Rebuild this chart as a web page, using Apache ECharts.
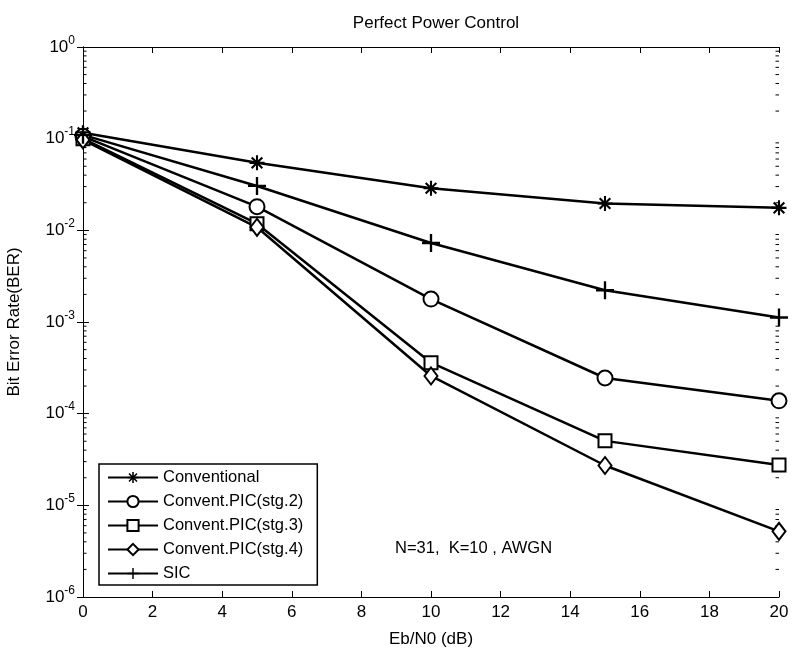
<!DOCTYPE html>
<html><head><meta charset="utf-8">
<script src="https://cdn.jsdelivr.net/npm/echarts@6/dist/echarts.min.js"></script>
<style>html,body{margin:0;padding:0;background:#fff}#c{width:792px;height:654px}</style>
</head><body><div id="c"></div>
<script>
const ebn0 = [0, 5, 10, 15, 20];
const conventional = [0.116, 0.0545, 0.0288, 0.0196, 0.0176];
const pic2 = [0.106, 0.0181, 0.00178, 0.000245, 0.000138];
const pic3 = [0.100, 0.0118, 0.00036, 0.0000505, 0.0000275];
const pic4 = [0.097, 0.0108, 0.000258, 0.0000272, 0.0000052];
const sic = [0.110, 0.0305, 0.00728, 0.00222, 0.00112];
const seriesNames = ['Conventional', 'Convent.PIC(stg.2)', 'Convent.PIC(stg.3)', 'Convent.PIC(stg.4)', 'SIC'];
const minorTickVals = [];
for (let k = -6; k < 0; k++) for (let m = 2; m <= 9; m++) minorTickVals.push(m * Math.pow(10, k));

const FF = 'Liberation Sans, Arial, Helvetica';
const starPath = 'path://M8.6,0H11.4V8.6H20V11.4H11.4V20H8.6V11.4H0V8.6H8.6Z M1.9,3.9L3.9,1.9L10,8L16.1,1.9L18.1,3.9L12,10L18.1,16.1L16.1,18.1L10,12L3.9,18.1L1.9,16.1L8,10Z';
const plusPath = 'path://M8.7,0H11.3V8.7H20V11.3H11.3V20H8.7V11.3H0V8.7H8.7Z';

function pairs(arr){ return ebn0.map((x,i)=>[x, arr[i]]); }
const lineBase = {type:'line', xAxisIndex:0, yAxisIndex:0, lineStyle:{color:'#000', width:2.5}, itemStyle:{color:'#000', borderColor:'#000', borderWidth:2.5}, showAllSymbol:true, z:5};
const ch = echarts.init(document.getElementById('c'));
const yLab = {
  color:'#000', margin:8,
  formatter: v => { const e = Math.round(Math.log10(v)); return '{b|10}{s|' + e + '}'; },
  rich:{ b:{fontSize:17, fontFamily:FF, color:'#000'}, s:{fontSize:12, fontFamily:FF, color:'#000', verticalAlign:'bottom', padding:[0,0,13,0]} }
};
ch.setOption({
  animation:false,
  backgroundColor:'#fff',
  textStyle:{fontFamily:FF},
  title:{text:'Perfect Power Control', left:431, textAlign:'center', top:10, textStyle:{fontSize:17, fontWeight:'normal', color:'#000', fontFamily:FF}},
  grid:{left:83, right:13, top:47, bottom:57, containLabel:false, outerBoundsMode:'none'},
  xAxis:[
    {type:'value', min:0, max:20, interval:2, position:'bottom',
     axisLine:{lineStyle:{color:'#000', width:1}}, axisTick:{inside:true, length:6, lineStyle:{color:'#000'}},
     axisLabel:{color:'#000', fontSize:17, margin:7, fontFamily:FF}, splitLine:{show:false},
     name:'Eb/N0 (dB)', nameLocation:'middle', nameGap:34, nameTextStyle:{color:'#000', fontSize:17, fontFamily:FF}},
    {type:'value', min:0, max:20, interval:2, position:'top',
     axisLine:{lineStyle:{color:'#000', width:1}}, axisTick:{inside:true, length:6, lineStyle:{color:'#000'}},
     axisLabel:{show:false}, splitLine:{show:false}}
  ],
  yAxis:[
    {type:'log', logBase:10, min:1e-6, max:1, position:'left',
     axisLine:{show:true, lineStyle:{color:'#000', width:1}}, axisTick:{show:true, inside:true, length:6, lineStyle:{color:'#000'}},
     axisLabel:yLab, splitLine:{show:false}, minorTick:{show:false},
     name:'Bit Error Rate(BER)', nameLocation:'middle', nameGap:60, nameRotate:90, nameTextStyle:{color:'#000', fontSize:17, fontFamily:FF}},
    {type:'log', logBase:10, min:1e-6, max:1, position:'right',
     axisLine:{show:true, lineStyle:{color:'#000', width:1}}, axisTick:{show:true, inside:true, length:6, lineStyle:{color:'#000'}},
     axisLabel:{show:false}, splitLine:{show:false}}
  ],
  legend:{
    data:seriesNames, orient:'vertical', left:99, top:464,
    itemWidth:50, itemHeight:14, itemGap:7,
    backgroundColor:'#fff', borderColor:'#000', borderWidth:1.5, borderRadius:0,
    padding:[5, 14, 3, 8],
    textStyle:{color:'#000', fontSize:16.5, fontFamily:FF}
  },
  graphic:[
    {type:'text', left:395, top:540, style:{text:'N=31,  K=10 , AWGN', fontSize:16.5, fontFamily:FF, fill:'#000'}}
  ],
  series:[
    Object.assign({}, lineBase, {name:seriesNames[0], data:pairs(conventional), symbol:starPath, symbolSize:15, itemStyle:{color:'#000', borderWidth:0}}),
    Object.assign({}, lineBase, {name:seriesNames[1], data:pairs(pic2), symbol:'emptyCircle', symbolSize:15}),
    Object.assign({}, lineBase, {name:seriesNames[2], data:pairs(pic3), symbol:'emptyRect', symbolSize:13}),
    Object.assign({}, lineBase, {name:seriesNames[3], data:pairs(pic4), symbol:'emptyDiamond', symbolSize:[13, 17]}),
    Object.assign({}, lineBase, {name:seriesNames[4], data:pairs(sic), symbol:plusPath, symbolSize:18, itemStyle:{color:'#000', borderWidth:0}}),
    {type:'custom', name:'minor', xAxisIndex:0, yAxisIndex:0, silent:true, z:3,
     data:minorTickVals.map(v=>[0, v]),
     renderItem:(params, api)=>{
       const pl = api.coord([0, api.value(1)]);
       const pr = api.coord([20, api.value(1)]);
       return {type:'group', children:[
         {type:'line', shape:{x1:pl[0], y1:pl[1], x2:pl[0]+3.5, y2:pl[1]}, style:{stroke:'#000', lineWidth:1}},
         {type:'line', shape:{x1:pr[0], y1:pr[1], x2:pr[0]-3.5, y2:pr[1]}, style:{stroke:'#000', lineWidth:1}}
       ]};
     }}
  ]
});
</script></body></html>
